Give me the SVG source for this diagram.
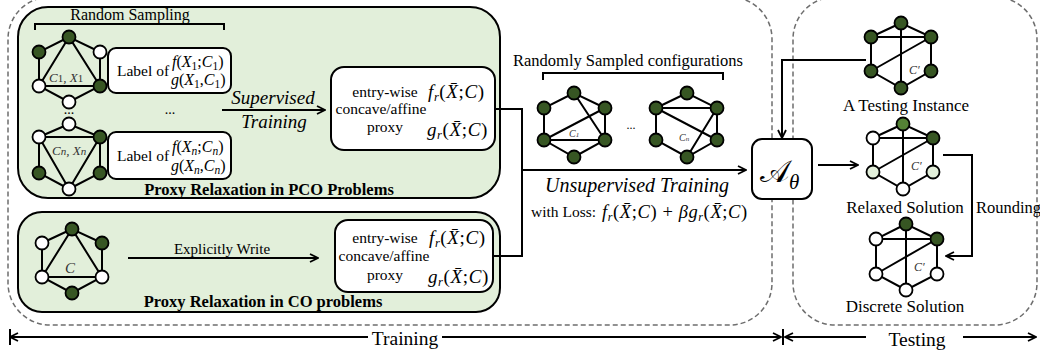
<svg xmlns="http://www.w3.org/2000/svg" width="1040" height="356" viewBox="0 0 1040 356">
<defs>
<style>
.t{font-family:"Liberation Serif","Times New Roman",serif;fill:#000}
.i{font-style:italic}
.b{font-weight:bold}
.e{stroke:#000;stroke-width:2;fill:none}
.n{stroke:#000;stroke-width:1.8}
.dg{fill:#375623}
.mg{fill:#548235}
.lg{fill:#e2efda}
.w{fill:#fff}
.box{fill:#e2efda;stroke:#000;stroke-width:2}
.wb{fill:#fff;stroke:#000;stroke-width:2}
.dash{fill:none;stroke:#6e6e6e;stroke-width:1.5;stroke-dasharray:5 3}
.c{fill:none;stroke:#000;stroke-width:2}
.gl{font-family:"Liberation Serif",serif;font-style:italic;fill:#333}
.mx{letter-spacing:0.6px}
</style>
<marker id="ah" viewBox="0 0 10 10" refX="9" refY="5" markerWidth="10" markerHeight="10" markerUnits="userSpaceOnUse" orient="auto-start-reverse">
<path d="M1,1 L9,5 L1,9" fill="none" stroke="#000" stroke-width="1.8"/>
</marker>
</defs>

<g id="containers">
<rect class="dash" x="8" y="-3" width="764" height="328" rx="42"/>
<rect class="dash" x="793" y="-3" width="244" height="328" rx="42"/>
</g>

<g id="pco-box">
<rect class="box" x="18" y="7" width="482" height="191" rx="30"/>
<text class="t b" x="269" y="195" font-size="16.5" text-anchor="middle">Proxy Relaxation in PCO Problems</text>
<text class="t" x="130" y="20" font-size="16" text-anchor="middle">Random Sampling</text>
<path class="e" d="M35,30 V24 H224 V30" stroke-width="1.6"/>
<text class="t" x="69" y="114" font-size="14" text-anchor="middle">...</text>
<text class="t" x="170" y="114" font-size="14" text-anchor="middle">...</text>
</g>

<g id="co-box">
<rect class="box" x="18" y="212" width="482" height="100" rx="24"/>
<text class="t b" x="263" y="307" font-size="16.5" text-anchor="middle">Proxy Relaxation in CO problems</text>
<text class="t" x="222" y="254" font-size="15" text-anchor="middle">Explicitly Write</text>
</g>

<g id="graph-c1x1">
<path class="e" d="M69,37 L39,52 L39,86 L69,102 L100,86 L100,52 Z M69,37 L39,86 L100,86 Z"/>
<circle class="n dg" cx="69" cy="37" r="6.5"/>
<circle class="n dg" cx="39" cy="52" r="6.5"/>
<circle class="n w" cx="100" cy="52" r="6.5"/>
<circle class="n w" cx="39" cy="86" r="6.5"/>
<circle class="n dg" cx="100" cy="86" r="6.5"/>
<circle class="n w" cx="69" cy="102" r="6.5"/>
<text class="gl" x="49" y="82" font-size="13">C<tspan font-style="normal" font-size="11">1</tspan>, X<tspan font-style="normal" font-size="11">1</tspan></text>
</g>

<g id="label-1">
<rect class="wb" x="108" y="48" width="123" height="45" rx="8"/>
<text class="t" x="117" y="76" font-size="15.5">Label of</text>
<text class="t" x="172" y="67" font-size="16"><tspan class="i">f</tspan>(<tspan class="i">X</tspan><tspan font-size="11.5" dy="3">1</tspan><tspan dy="-3">;</tspan><tspan class="i">C</tspan><tspan font-size="11.5" dy="3">1</tspan><tspan dy="-3">)</tspan></text>
<text class="t" x="171" y="85" font-size="16"><tspan class="i">g</tspan>(<tspan class="i">X</tspan><tspan font-size="11.5" dy="3">1</tspan><tspan dy="-3">,</tspan><tspan class="i">C</tspan><tspan font-size="11.5" dy="3">1</tspan><tspan dy="-3">)</tspan></text>
</g>

<g id="graph-cnxn">
<path class="e" d="M69,124 L39,137 L39,173 L69,189 L100,173 L100,137 Z M39,137 L100,137 L69,189 Z"/>
<circle class="n w" cx="69" cy="124" r="6.5"/>
<circle class="n w" cx="39" cy="137" r="6.5"/>
<circle class="n dg" cx="100" cy="137" r="6.5"/>
<circle class="n dg" cx="39" cy="173" r="6.5"/>
<circle class="n dg" cx="100" cy="173" r="6.5"/>
<circle class="n w" cx="69" cy="189" r="6.5"/>
<text class="gl" x="52" y="155" font-size="13">C<tspan font-size="11">n</tspan>, X<tspan font-size="11">n</tspan></text>
</g>

<g id="label-n">
<rect class="wb" x="108" y="132" width="123" height="47" rx="8"/>
<text class="t" x="117" y="161" font-size="15.5">Label of</text>
<text class="t" x="172" y="152" font-size="16"><tspan class="i">f</tspan>(<tspan class="i">X</tspan><tspan class="i" font-size="11.5" dy="3">n</tspan><tspan dy="-3">;</tspan><tspan class="i">C</tspan><tspan class="i" font-size="11.5" dy="3">n</tspan><tspan dy="-3">)</tspan></text>
<text class="t" x="171" y="171" font-size="16"><tspan class="i">g</tspan>(<tspan class="i">X</tspan><tspan class="i" font-size="11.5" dy="3">n</tspan><tspan dy="-3">,</tspan><tspan class="i">C</tspan><tspan class="i" font-size="11.5" dy="3">n</tspan><tspan dy="-3">)</tspan></text>
</g>

<g id="proxy-pco">
<rect class="wb" x="331" y="67" width="164" height="83" rx="13"/>
<text class="t" x="385" y="97" font-size="15.5" text-anchor="middle">entry-wise</text>
<text class="t" x="381" y="114" font-size="15.5" text-anchor="middle">concave/affine</text>
<text class="t" x="385" y="132" font-size="15.5" text-anchor="middle">proxy</text>
<text class="t mx" x="428" y="98" font-size="19"><tspan class="i">f</tspan><tspan class="i" font-size="12.5" dy="3">r</tspan><tspan dy="-3">(</tspan><tspan class="i">X̄</tspan>;<tspan class="i">C</tspan>)</text>
<text class="t mx" x="427" y="136" font-size="19"><tspan class="i">g</tspan><tspan class="i" font-size="12.5" dy="3">r</tspan><tspan dy="-3">(</tspan><tspan class="i">X̄</tspan>;<tspan class="i">C</tspan>)</text>
</g>

<g id="graph-c">
<path class="e" d="M72,229 L42,243 L42,277 L72,293 L102,277 L102,243 Z M72,229 L42,277 L102,277 Z"/>
<circle class="n dg" cx="72" cy="229" r="6.5"/>
<circle class="n w" cx="42" cy="243" r="6.5"/>
<circle class="n dg" cx="102" cy="243" r="6.5"/>
<circle class="n w" cx="42" cy="277" r="6.5"/>
<circle class="n w" cx="102" cy="277" r="6.5"/>
<circle class="n dg" cx="72" cy="293" r="6.5"/>
<text class="gl" x="70" y="273" font-size="15" text-anchor="middle">C</text>
</g>

<g id="proxy-co">
<rect class="wb" x="335" y="220" width="158" height="72" rx="13"/>
<text class="t" x="385" y="243" font-size="15.5" text-anchor="middle">entry-wise</text>
<text class="t" x="384" y="261" font-size="15.5" text-anchor="middle">concave/affine</text>
<text class="t" x="385" y="280" font-size="15.5" text-anchor="middle">proxy</text>
<text class="t mx" x="429" y="244" font-size="19"><tspan class="i">f</tspan><tspan class="i" font-size="12.5" dy="3">r</tspan><tspan dy="-3">(</tspan><tspan class="i">X̄</tspan>;<tspan class="i">C</tspan>)</text>
<text class="t mx" x="428" y="283" font-size="19"><tspan class="i">g</tspan><tspan class="i" font-size="12.5" dy="3">r</tspan><tspan dy="-3">(</tspan><tspan class="i">X̄</tspan>;<tspan class="i">C</tspan>)</text>
</g>

<g id="sampled-configs">
<text class="t" x="628" y="66" font-size="16.5" text-anchor="middle">Randomly Sampled configurations</text>
<path class="e" d="M543,80 V73 H723 V80" stroke-width="1.6"/>
<text class="t" x="631" y="129" font-size="12" text-anchor="middle">...</text>
</g>

<g id="graph-rand-c1">
<path class="e" d="M574,93 L544,108 L544,140 L574,157 L605,140 L605,108 Z M574,93 L605,140 M605,108 L544,140 M544,140 L605,140"/>
<circle class="n dg" cx="574" cy="93" r="6.5"/>
<circle class="n dg" cx="544" cy="108" r="6.5"/>
<circle class="n dg" cx="605" cy="108" r="6.5"/>
<circle class="n dg" cx="544" cy="140" r="6.5"/>
<circle class="n dg" cx="605" cy="140" r="6.5"/>
<circle class="n dg" cx="574" cy="157" r="6.5"/>
<text class="gl" x="569" y="137" font-size="10">C<tspan font-size="7">1</tspan></text>
</g>

<g id="graph-rand-cn">
<path class="e" d="M687,93 L656,108 L656,140 L687,157 L717,140 L717,108 Z M656,108 L717,108 M656,108 L717,140 M717,108 L687,157"/>
<circle class="n dg" cx="687" cy="93" r="6.5"/>
<circle class="n dg" cx="656" cy="108" r="6.5"/>
<circle class="n dg" cx="717" cy="108" r="6.5"/>
<circle class="n dg" cx="656" cy="140" r="6.5"/>
<circle class="n dg" cx="717" cy="140" r="6.5"/>
<circle class="n dg" cx="687" cy="157" r="6.5"/>
<text class="gl" x="679" y="141" font-size="10">C<tspan font-size="7">n</tspan></text>
</g>

<g id="unsupervised-label">
<text class="t i" x="637" y="192" font-size="20" text-anchor="middle">Unsupervised Training</text>
<text class="t" x="531" y="217" font-size="15.5">with Loss:</text>
<text class="t mx" x="602" y="218" font-size="18.5"><tspan class="i">f</tspan><tspan class="i" font-size="12" dy="3">r</tspan><tspan dy="-3">(</tspan><tspan class="i">X̄</tspan>;<tspan class="i">C</tspan>) + <tspan class="i">βg</tspan><tspan class="i" font-size="12" dy="3">r</tspan><tspan dy="-3">(</tspan><tspan class="i">X̄</tspan>;<tspan class="i">C</tspan>)</text>
</g>

<g id="connectors">
<path class="c" d="M222,110 H325" marker-end="url(#ah)"/>
<text class="t i" x="273" y="104" font-size="19" text-anchor="middle">Supervised</text>
<text class="t i" x="274" y="128" font-size="19" text-anchor="middle">Training</text>
<path class="c" d="M128,258 H318" marker-end="url(#ah)"/>
<path class="c" d="M495,109 H522 V256 H493"/>
<path class="c" d="M522,170 H746" marker-end="url(#ah)"/>
<path class="c" d="M866,60 H782 V138" marker-end="url(#ah)"/>
<path class="c" d="M818,165 H858" marker-end="url(#ah)"/>
<path class="c" d="M943,155 H972 V256 H946" marker-end="url(#ah)"/>
<path class="c" d="M10,337 H368" marker-start="url(#ah)"/>
<path class="c" d="M442,337 H781" marker-end="url(#ah)"/>
<path class="c" d="M10,329 V345 M783,329 V345"/>
<path class="c" d="M785,337 H866" marker-start="url(#ah)"/>
<path class="c" d="M963,337 H1036" marker-end="url(#ah)"/>
<text class="t" x="405" y="345" font-size="19.5" text-anchor="middle">Training</text>
<text class="t" x="917" y="346" font-size="19.5" text-anchor="middle">Testing</text>
<text class="t" x="976" y="213" font-size="16.5">Rounding</text>
</g>

<g id="model">
<rect class="wb" x="752" y="139" width="60" height="60" rx="10"/>
<text x="760" y="182" font-size="31" font-family="'DejaVu Serif','DejaVu Sans',serif">𝒜</text>
<text class="t i" x="789" y="189" font-size="21">θ</text>
</g>

<g id="graph-test">
<path class="e" d="M901,23 L871,37 L871,71 L901,88 L931,71 L931,37 Z M901,23 V88 M871,37 H931 M931,37 L871,71"/>
<circle class="n dg" cx="901" cy="23" r="6.5"/>
<circle class="n dg" cx="871" cy="37" r="6.5"/>
<circle class="n dg" cx="931" cy="37" r="6.5"/>
<circle class="n dg" cx="871" cy="71" r="6.5"/>
<circle class="n dg" cx="931" cy="71" r="6.5"/>
<circle class="n dg" cx="901" cy="88" r="6.5"/>
<text class="gl" x="909" y="74" font-size="12">C′</text>
<text class="t" x="906" y="111" font-size="17" text-anchor="middle">A Testing Instance</text>
</g>

<g id="graph-relaxed">
<path class="e" d="M903,124 L873,138 L873,172 L903,189 L933,172 L933,138 Z M903,124 V189 M873,138 H933 M933,138 L873,172"/>
<circle class="n mg" cx="903" cy="124" r="6.5"/>
<circle class="n w" cx="873" cy="138" r="6.5"/>
<circle class="n dg" cx="933" cy="138" r="6.5"/>
<circle class="n lg" cx="873" cy="172" r="6.5"/>
<circle class="n lg" cx="933" cy="172" r="6.5"/>
<circle class="n w" cx="903" cy="189" r="6.5"/>
<text class="gl" x="911" y="170" font-size="12">C′</text>
<text class="t" x="905" y="213" font-size="17" text-anchor="middle">Relaxed Solution</text>
</g>

<g id="graph-discrete">
<path class="e" d="M906,224 L876,239 L876,274 L906,290 L937,274 L937,239 Z M906,224 V290 M876,239 H937 M937,239 L876,274"/>
<circle class="n dg" cx="906" cy="224" r="6.5"/>
<circle class="n w" cx="876" cy="239" r="6.5"/>
<circle class="n dg" cx="937" cy="239" r="6.5"/>
<circle class="n w" cx="876" cy="274" r="6.5"/>
<circle class="n w" cx="937" cy="274" r="6.5"/>
<circle class="n w" cx="906" cy="290" r="6.5"/>
<text class="gl" x="914" y="271" font-size="12">C′</text>
<text class="t" x="905" y="312" font-size="17" text-anchor="middle">Discrete Solution</text>
</g>
</svg>
